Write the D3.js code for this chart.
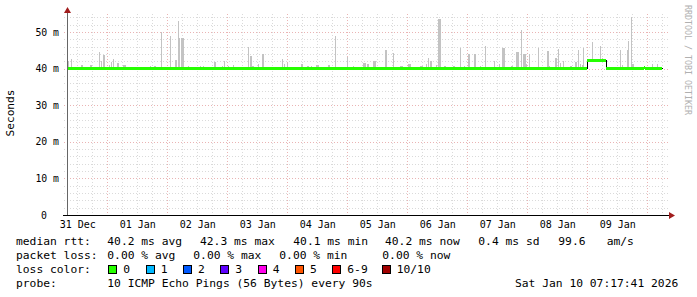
<!DOCTYPE html>
<html lang="en">
    <head>
        <meta charset="utf-8" />
        <title>Smokeping median rtt</title>
        <style>
            body { margin: 0; background: #fff; }
            svg text { font-family: "DejaVu Sans Mono", monospace; fill: #000; }
        </style>
        <script src="https://cdn.jsdelivr.net/npm/d3@7"></script>
    </head>
    <body>
        <script>
            // hours since graph start, and the median rtt (ms) from that hour on
            var medianHour = [0, 208.1, 215.5, 230.7, 231.1];
            var medianValue = [40.2, 42.3, 40.2, 40.5, 40.2];
            var medianEndHour = 237.8;

            // smoke: start hour, duration in hours, max rtt (ms)
            var smokeHour = [0.4, 1.6, 5.7, 9.3, 12.7, 13.7, 14.3, 16.7, 17.5, 18.3, 20.1, 22.5,
                33.1, 34.7, 37.7, 41.3, 43.1, 44.3, 44.9, 45.6, 48.5, 53.2, 54.5, 58.7, 61.9,
                62.9, 64.5, 66.5, 72.5, 73.2, 73.9, 76.3, 77.9, 85.9, 86.9, 87.9, 93.5, 95.9,
                97.7, 99.7, 104.4, 107.3, 112.1, 114.5, 118.4, 120.1, 122.4, 127.1, 130.3,
                133.1, 136.4, 141.3, 143.7, 144.4, 145.1, 147.6, 148.5, 150.9, 154.3, 157.2,
                158.9, 160.5, 162.9, 165.2, 167.3, 170.9, 172.7, 173.9, 177.6, 179.6, 181.6,
                182.3, 183.6, 184.7, 188.3, 191.9, 192.8, 195.2, 196.3, 197.2, 198.5, 201.2,
                203.2, 204.5, 205.2, 205.9, 206.5, 209.9, 211.2, 213.2, 214.1, 215.9, 218,
                221.2, 222.1, 223.9, 224.5, 225.5, 225.9, 230.8, 233.9, 235.9];
            var smokeSpan = [0.4, 0.4, 0.8, 0.8, 0.4, 0.4, 0.8, 0.4, 0.4, 0.4, 0.8, 1.2,
                0.4, 0.8, 0.4, 0.4, 0.8, 0.4, 0.4, 1.2, 0.4, 0.4, 0.4, 0.8, 0.4,
                0.4, 0.4, 0.4, 0.4, 0.8, 0.8, 0.4, 0.8, 0.4, 0.4, 0.4, 0.8, 0.8,
                0.4, 1.2, 0.8, 0.4, 0.4, 0.4, 1.2, 0.8, 1.2, 0.8, 0.4,
                1.2, 1.2, 1.2, 0.4, 0.4, 0.8, 0.4, 1.2, 0.8, 0.8, 0.4,
                0.4, 0.8, 0.8, 0.4, 0.4, 0.4, 0.4, 1.2, 0.8, 1.2, 0.4,
                1.2, 0.4, 0.4, 0.4, 0.8, 0.4, 0.8, 0.4, 0.4, 0.4, 0.8,
                0.8, 0.4, 0.4, 0.4, 0.4, 0.4, 0.8, 0.4, 0.4, 0.4, 0.8,
                0.4, 0.4, 0.4, 0.4, 0.4, 0.8, 0.4, 0.4, 0.4];
            var smokeMax = [42.2, 42.6, 40.9, 41.0, 44.5, 42.0, 43.8, 41.0, 41.8, 42.5, 41.5, 41.0,
                40.6, 40.8, 50.0, 48.9, 42.3, 53.1, 48.3, 48.3, 40.6, 40.6, 40.6, 41.8, 40.8,
                42.2, 40.6, 40.9, 45.8, 43.4, 40.6, 41.2, 44.0, 42.6, 41.2, 41.4, 41.3, 40.7,
                40.6, 41.0, 41.0, 48.9, 43.3, 40.8, 41.4, 41.2, 42.0, 45.0, 44.2,
                40.6, 41.3, 40.6, 41.2, 43.0, 42.0, 40.9, 53.5, 40.6, 40.6, 45.5,
                40.6, 43.9, 44.0, 40.6, 46.2, 42.2, 41.2, 45.5, 40.8, 44.6, 50.5,
                44.0, 41.2, 44.0, 45.7, 44.8, 40.8, 43.0, 45.3, 41.6, 42.0, 40.8,
                41.7, 45.0, 41.2, 41.0, 45.7, 47.3, 42.6, 46.2, 43.0, 40.5, 40.5,
                45.1, 41.0, 45.1, 47.5, 54.2, 41.2, 40.7, 41.2, 41.3];

            var yTickValues = [0, 10, 20, 30, 40, 50];
            var yTickLabels = ['0', '10 m', '20 m', '30 m', '40 m', '50 m'];
            var xTickLabels = ['31 Dec', '01 Jan', '02 Jan', '03 Jan', '04 Jan', '05 Jan',
                '06 Jan', '07 Jan', '08 Jan', '09 Jan'];

            var lossLabels = ['0', '1', '2', '3', '4', '5', '6-9', '10/10'];
            var lossColors = ['#26ff00', '#00b8ff', '#0059ff', '#5e00ff', '#ff00ea', '#ff5500', '#ff0000', '#a10000'];

            var legendRtt = ['40.2 ms avg', '42.3 ms max', '40.1 ms min', '40.2 ms now', '0.4 ms sd', '99.6', 'am/s'];
            var legendLoss = ['0.00 % avg', '0.00 % max', '0.00 % min', '0.00 % now'];
            var probeText = '10 ICMP Echo Pings (56 Bytes) every 90s';
            var stampText = 'Sat Jan 10 07:17:41 2026';

            var width = 697, height = 297;
            var plotLeft = 67, plotRight = 667, plotBottom = 215, plotTop = 13.7;
            var start = new Date(2025, 11, 31, 7, 53, 0);
            var end = new Date(2026, 0, 10, 7, 53, 0);
            function at(h) { return new Date(+start + h * 3600e3); }

            var x = d3.scaleTime().domain([start, end]).range([plotLeft, plotRight]);
            var y = d3.scaleLinear().domain([0, 55]).range([plotBottom, plotTop]);
            function px(v) { return Math.round(v) + 0.5; }

            var svg = d3.select('body').append('svg')
                .attr('width', width).attr('height', height);

            // grid
            var grid = svg.append('g').attr('shape-rendering', 'crispEdges');
            d3.range(2, 55, 2).forEach(function(v) {
                var major = v % 10 === 0;
                grid.append('line')
                    .attr('x1', plotLeft - 3).attr('x2', plotRight + 2)
                    .attr('y1', px(y(v))).attr('y2', px(y(v)))
                    .attr('stroke', major ? '#eab4b4' : '#dadada')
                    .attr('stroke-dasharray', '1,2');
            });
            d3.timeHour.every(6).range(start, end).forEach(function(t) {
                var major = t.getHours() === 0;
                grid.append('line')
                    .attr('x1', px(x(t))).attr('x2', px(x(t)))
                    .attr('y1', plotTop).attr('y2', plotBottom + 3)
                    .attr('stroke', major ? '#eab4b4' : '#dadada')
                    .attr('stroke-dasharray', '1,2');
            });

            // smoke
            function medianAt(h) {
                var i = d3.bisectRight(medianHour, h) - 1;
                return medianValue[Math.max(0, i)];
            }
            svg.append('g').attr('shape-rendering', 'crispEdges').selectAll('rect')
                .data(smokeHour)
                .enter().append('rect')
                .attr('x', function(d) { return Math.round(x(at(d))); })
                .attr('width', function(d, i) { return Math.max(1, Math.round(x(at(d + smokeSpan[i])) - x(at(d)))); })
                .attr('y', function(d, i) { return Math.round(y(smokeMax[i])); })
                .attr('height', function(d, i) { return Math.round(y(medianAt(d) - 0.3)) - Math.round(y(smokeMax[i])); })
                .attr('fill', '#c3c3c3');

            // median: black step outline, green flat segments
            var steps = medianHour.map(function(h, i) { return [h, medianValue[i]]; });
            steps.push([medianEndHour, medianValue[medianValue.length - 1]]);
            var stepLine = d3.line()
                .x(function(d) { return px(x(at(d[0]))); })
                .y(function(d) { return px(y(d[1])); })
                .curve(d3.curveStepAfter);
            svg.append('path').datum(steps)
                .attr('d', stepLine)
                .attr('fill', 'none').attr('stroke', '#000').attr('stroke-width', 1)
                .attr('shape-rendering', 'crispEdges');
            svg.append('g').attr('shape-rendering', 'crispEdges').selectAll('line')
                .data(steps.slice(0, -1))
                .enter().append('line')
                .attr('x1', function(d) { return Math.round(x(at(d[0]))); })
                .attr('x2', function(d, i) { return Math.round(x(at(steps[i + 1][0]))); })
                .attr('y1', function(d) { return px(y(d[1])); })
                .attr('y2', function(d) { return px(y(d[1])); })
                .attr('stroke', lossColors[0]).attr('stroke-width', 3);

            // axes
            var yAxis = d3.axisLeft(y)
                .tickValues(yTickValues)
                .tickFormat(function(d, i) { return yTickLabels[i]; })
                .tickSize(0).tickPadding(8);
            var yg = svg.append('g').attr('transform', 'translate(' + plotLeft + ',0)').call(yAxis);
            yg.select('.domain').remove();
            yg.selectAll('text').style('font-family', '"DejaVu Sans Mono", monospace')
                .style('fill', '#000').attr('font-size', 9.8)
                .filter(function(d) { return d === 0; }).attr('dx', -12);

            var noonTicks = xTickLabels.map(function(s, i) { return d3.timeHour.offset(d3.timeDay.floor(start), 12 + 24 * i); });
            var xAxis = d3.axisBottom(x)
                .tickValues(noonTicks)
                .tickFormat(function(d, i) { return xTickLabels[i]; })
                .tickSize(0).tickPadding(6);
            var xg = svg.append('g').attr('transform', 'translate(0,' + plotBottom + ')').call(xAxis);
            xg.select('.domain').remove();
            xg.selectAll('text').style('font-family', '"DejaVu Sans Mono", monospace')
                .style('fill', '#000').attr('font-size', 10);

            svg.append('line').attr('x1', plotLeft + 0.5).attr('x2', plotLeft + 0.5)
                .attr('y1', plotBottom).attr('y2', 11).attr('stroke', '#666');
            svg.append('line').attr('x1', plotLeft - 4).attr('x2', plotRight + 3)
                .attr('y1', plotBottom + 0.5).attr('y2', plotBottom + 0.5).attr('stroke', '#000');
            svg.append('path').attr('d', 'M' + (plotLeft - 3) + ',13L' + (plotLeft + 0.5) + ',7L' + (plotLeft + 4) + ',13Z')
                .attr('fill', '#a11d1d');
            svg.append('path').attr('d', 'M' + (plotRight + 2) + ',' + (plotBottom - 3) + 'L' + (plotRight + 8) + ',' + (plotBottom + 0.5) + 'L' + (plotRight + 2) + ',' + (plotBottom + 4) + 'Z')
                .attr('fill', '#a11d1d');

            // titles
            svg.append('text').attr('transform', 'translate(14,113) rotate(-90)')
                .attr('text-anchor', 'middle').attr('font-size', 11.2).text('Seconds');
            svg.append('text').attr('transform', 'translate(685,5) rotate(90)')
                .attr('font-size', 8.3).style('fill', '#b0b0b0')
                .text('RRDTOOL / TOBI OETIKER');

            // legend
            var lg = svg.append('g').attr('font-size', 11.3).attr('xml:space', 'preserve');
            function put(t, tx, ty) {
                lg.append('text').attr('x', tx).attr('y', ty).text(t);
            }
            put('median rtt:', 16, 245);
            [107.3, 200, 293.3, 385, 478.3, 558.3, 606.7].forEach(function(tx, i) { put(legendRtt[i], tx, 245); });
            put('packet loss:', 16, 259);
            [107.3, 193.3, 279.3, 382.3].forEach(function(tx, i) { put(legendLoss[i], tx, 259); });
            put('loss color:', 16, 273);
            [108.3, 145.7, 183, 220.3, 257.7, 295, 332.3, 381.7].forEach(function(tx, i) {
                lg.append('rect').attr('x', Math.round(tx) + 0.5).attr('y', 265.5).attr('width', 8).attr('height', 8)
                    .attr('fill', lossColors[i]).attr('stroke', '#000').attr('stroke-width', 1);
                put(lossLabels[i], tx + 15, 273);
            });
            put('probe:', 16, 287);
            put(probeText, 107.3, 287);
            put(stampText, 515, 287);
        </script>
    </body>
</html>
